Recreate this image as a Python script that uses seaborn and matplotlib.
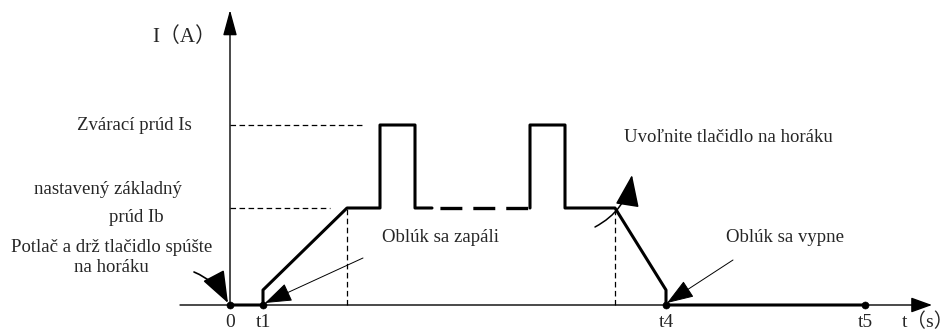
import numpy as np
import pandas as pd
import seaborn as sns
import matplotlib.pyplot as plt
from matplotlib.patches import ArrowStyle

# 1. DATA  (time t, current I in drawing units; origin at t=0, I=0)
I_s = 180          # welding current level
I_b = 97           # base current level
t_marks = [0, 33, 436, 635]
t_labels = ["0", "t1", "t4", "t5"]

# solid part of the waveform up to the dashed gap
wave1_t = [0, 33, 33, 117, 150, 150, 185, 185, 202]
wave1_I = [0, 0, 15, I_b, I_b, I_s, I_s, I_b, I_b]
# dashed gap (repetition of pulses)
gap_t = [202, 300]
gap_I = [I_b, I_b]
# second pulse, down ramp and zero current
wave2_t = [300, 300, 335, 335, 385, 436, 436, 635]
wave2_I = [I_b, I_s, I_s, I_b, I_b, 15, 0, 0]

# reference (guide) lines
ref_h_t = [[0, 133], [0, 100]]
ref_h_I = [[I_s, I_s], [I_b, I_b]]
ref_v_t = [117, 385]

# 2. FIGURE
sns.set_theme(style="white")
plt.rcParams["font.family"] = ["Liberation Serif", "Noto Sans CJK SC", "DejaVu Sans"]
plt.rcParams["lines.scale_dashes"] = False

fig = plt.figure(figsize=(9.53, 3.31), dpi=100)
ax = fig.add_axes([0, 0, 1, 1])
ax.set_xlim(-230, 723)
ax.set_ylim(-26, 305)
ax.axis("off")

fs = 13.5
fam = ["Liberation Serif", "Noto Sans CJK SC"]
dash = (0, (4, 2.5))

# axes with arrows
ax.annotate("", xy=(0, 295), xytext=(0, 0),
            arrowprops=dict(arrowstyle=ArrowStyle("-|>", head_length=1.58, head_width=0.43),
                            mutation_scale=10, lw=1.0, color="black", shrinkA=0, shrinkB=0))
ax.annotate("", xy=(702, 0), xytext=(-50, 0),
            arrowprops=dict(arrowstyle=ArrowStyle("-|>", head_length=1.3, head_width=0.47),
                            mutation_scale=10, lw=1.0, color="black", shrinkA=0, shrinkB=0))

# guide lines
for tt, ii in zip(ref_h_t, ref_h_I):
    sns.lineplot(x=tt, y=ii, color="black", lw=0.9, ls=dash, estimator=None, sort=False, ax=ax)
for tv in ref_v_t:
    sns.lineplot(x=[tv, tv], y=[0, I_b], color="black", lw=0.9, ls=dash,
                 estimator=None, sort=False, ax=ax)

# waveform
df1 = pd.DataFrame({"t": wave1_t, "I": wave1_I})
df2 = pd.DataFrame({"t": wave2_t, "I": wave2_I})
sns.lineplot(data=df1, x="t", y="I", sort=False, estimator=None, color="black", lw=2.2, ax=ax)
sns.lineplot(data=df2, x="t", y="I", sort=False, estimator=None, color="black", lw=2.2, ax=ax)
sns.lineplot(x=gap_t, y=gap_I, color="black", lw=2.4, ls=(18, (15.8, 7.9)),
             estimator=None, sort=False, ax=ax)

# marker dots
sns.scatterplot(x=t_marks, y=[0] * len(t_marks), color="black", s=26, edgecolor="black",
                zorder=5, ax=ax)

# tick labels
for tm, lb in zip(t_marks, t_labels):
    ax.text(tm, -22, lb, ha="center", va="baseline", fontsize=14, family=fam)

ax.text(-78, 268, "I（A）", ha="left", va="center", fontsize=15, family=fam)
ax.text(672, -26, "t（s）", ha="left", va="bottom", fontsize=14, family=fam)

# left-side labels
ax.text(-96, I_s, "Zvárací prúd Is", ha="center", va="center", fontsize=fs, family=fam)
ax.text(-122, 115, "nastavený základný", ha="center", va="center", fontsize=fs, family=fam)
ax.text(-94, 87, "prúd Ib", ha="center", va="center", fontsize=fs, family=fam)
ax.text(-118, 57, "Potlač a drž tlačidlo spúšte", ha="center", va="center", fontsize=fs, family=fam)
ax.text(-119, 37, "na horáku", ha="center", va="center", fontsize=fs, family=fam)

# annotations in the plot
ax.text(211, 68, "Oblúk sa zapáli", ha="center", va="center", fontsize=fs, family=fam)
ax.text(498, 168, "Uvoľnite tlačidlo na horáku", ha="center", va="center", fontsize=fs, family=fam)
ax.text(555, 67, "Oblúk sa vypne", ha="center", va="center", fontsize=fs, family=fam)

head = ArrowStyle("-|>", head_length=1.7, head_width=0.6)
big = ArrowStyle("-|>", head_length=2.0, head_width=0.75)
ax.annotate("", xy=(-2, 2), xytext=(-36, 33),
            arrowprops=dict(arrowstyle=big, mutation_scale=10, lw=1.2, color="black",
                            connectionstyle="arc3,rad=-0.18", shrinkA=0, shrinkB=0))
ax.annotate("", xy=(35, 2), xytext=(133, 47),
            arrowprops=dict(arrowstyle=head, mutation_scale=10, lw=0.7, color="black",
                            shrinkA=0, shrinkB=0))
ax.annotate("", xy=(402, 130), xytext=(365, 78),
            arrowprops=dict(arrowstyle=big, mutation_scale=10, lw=1.1, color="black",
                            connectionstyle="arc3,rad=0.25", shrinkA=0, shrinkB=0))
ax.annotate("", xy=(437, 2), xytext=(503, 45),
            arrowprops=dict(arrowstyle=head, mutation_scale=10, lw=0.7, color="black",
                            shrinkA=0, shrinkB=0))

fig.savefig("out.png", dpi=100)
